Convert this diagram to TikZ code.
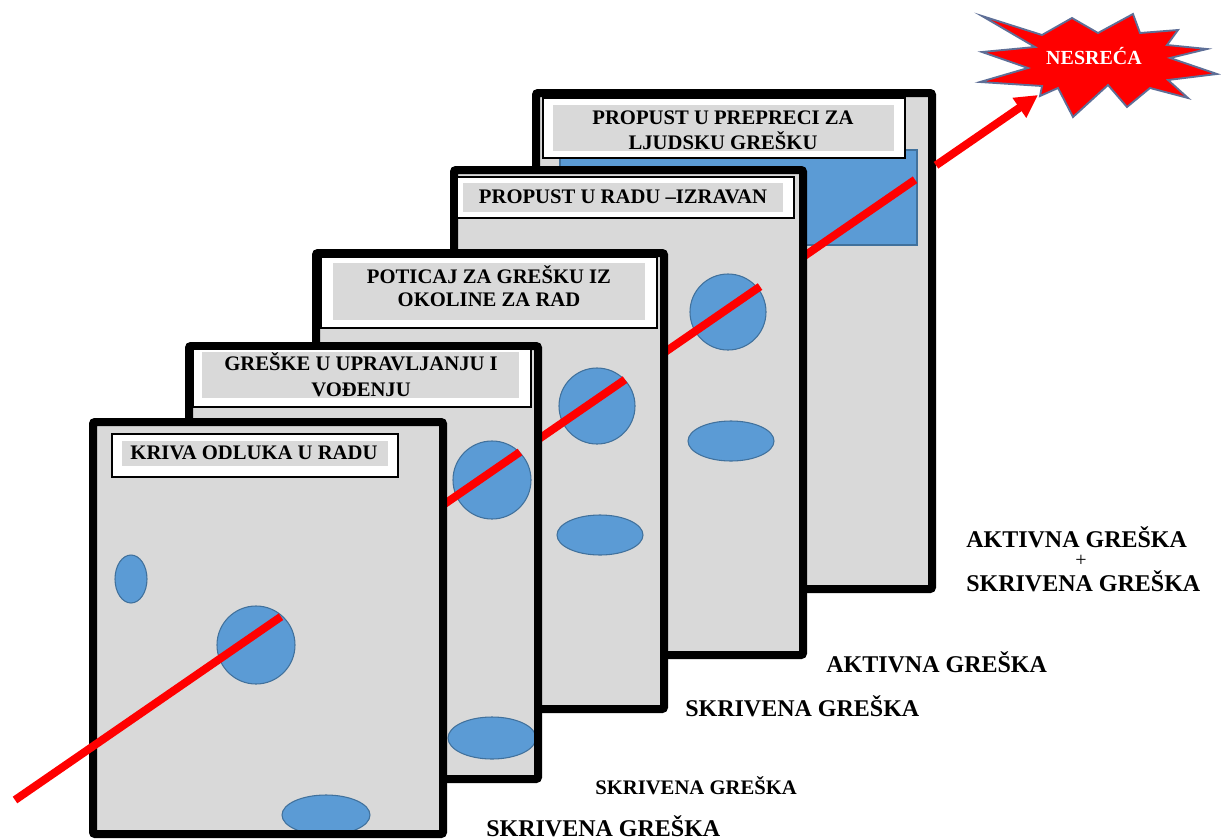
\documentclass[tikz,border=0pt]{standalone}
\usepackage{fontspec}
\setmainfont{Liberation Serif}
\usetikzlibrary{arrows.meta,calc}
\definecolor{panelgray}{HTML}{D9D9D9}
\definecolor{blobfill}{HTML}{5B9BD5}
\definecolor{blobline}{HTML}{41719C}
\definecolor{starline}{HTML}{5E6F97}
\begin{document}
\begin{tikzpicture}[x=0.75pt,y=-0.75pt,
  panelfill/.style={fill=panelgray},
  panelframe/.style={draw=black,line width=6pt,rounded corners=1.5pt},
  labelbox/.style={draw=black,line width=0.9pt,fill=white},
  labelfill/.style={fill=panelgray},
  blob/.style={fill=blobfill,draw=blobline,line width=0.8pt},
  ray/.style={draw=red,line width=6pt},
  ltxt/.style={font=\fontsize{15.5}{18}\selectfont\bfseries,anchor=base,inner sep=0pt},
  btxt/.style={font=\fontsize{18}{21}\selectfont\bfseries,anchor=base west,inner sep=0pt},
  stxt/.style={font=\fontsize{15.5}{18}\selectfont\bfseries,anchor=base west,inner sep=0pt},
  starshape/.style={fill=red,draw=starline,line width=1.4pt,line join=miter},
]
\useasboundingbox (0,0) rectangle (1221,839);
\coordinate (r0) at (15,800);
\coordinate (r1) at (1038,95);

% ---------- Panel 5 ----------
\fill[panelfill] (536,93) rectangle (932,589);
\draw[blob] (560,150) rectangle (917,245);
\draw[panelframe] (536,93) rectangle (932,589);
\draw[labelbox] (543,98) rectangle (905,158);
\fill[labelfill] (553,105) rectangle (894,151);
\node[ltxt] (t5a) at (723,124) {PROPUST U PREPRECI ZA};
\node[ltxt] (t5b) at (723,149) {LJUDSKU GREŠKU};
\draw[ray] ($(r0)!0.7576!(r1)$) -- ($(r0)!0.8798!(r1)$);

% ---------- Panel 4 ----------
\fill[panelfill] (454,170) rectangle (803,655);
\draw[blob] (728,312) circle [radius=38];
\draw[blob] (731,441) ellipse [x radius=43, y radius=20];
\draw[panelframe] (454,170) rectangle (803,655);
\draw[labelbox] (457,177) rectangle (794,218);
\fill[labelfill] (463,183) rectangle (783,212);
\node[ltxt] (t4) at (623,203) {PROPUST U RADU –IZRAVAN};
\draw[ray] ($(r0)!0.6207!(r1)$) -- ($(r0)!0.7283!(r1)$);

% ---------- Panel 3 ----------
\fill[panelfill] (316,253) rectangle (664,709);
\draw[blob] (597,406) circle [radius=38];
\draw[blob] (600,535) ellipse [x radius=43, y radius=20];
\draw[panelframe] (316,253) rectangle (664,709);
\draw[labelbox] (321,257) rectangle (657,328);
\fill[labelfill] (333,263) rectangle (645,320);
\node[ltxt] (t3a) at (489,283) {POTICAJ ZA GREŠKU IZ};
\node[ltxt] (t3b) at (489,306) {OKOLINE ZA RAD};
\draw[ray] ($(r0)!0.5034!(r1)$) -- ($(r0)!0.5963!(r1)$);

% ---------- Panel 2 ----------
\fill[panelfill] (189,346) rectangle (538,779);
\draw[blob] (492,480) circle [radius=39];
\draw[blob] (492,738) ellipse [x radius=44, y radius=21];
\draw[panelframe] (189,346) rectangle (538,779);
\draw[labelbox] (193,349) rectangle (531,407);
\fill[labelfill] (202,352) rectangle (519,398);
\node[ltxt] (t2a) at (361,370) {GREŠKE U UPRAVLJANJU I};
\node[ltxt] (t2b) at (361,396) {VOĐENJU};
\draw[ray] ($(r0)!0.4057!(r1)$) -- ($(r0)!0.4936!(r1)$);

% ---------- Panel 1 ----------
\fill[panelfill] (93,422) rectangle (443,834);
\draw[blob] (131,579) ellipse [x radius=16, y radius=24];
\draw[blob] (256,645) circle [radius=39];
\draw[blob] (326,815) ellipse [x radius=44, y radius=20];
\draw[panelframe] (93,422) rectangle (443,834);
\draw[labelbox] (112,434) rectangle (398,477);
\fill[labelfill] (122,441) rectangle (388,466);
\node[ltxt] (t1) at (254,459) {KRIVA ODLUKA U RADU};
\draw[ray] (r0) -- ($(r0)!0.26!(r1)$);

% ---------- Star (explosion) ----------
\draw[starshape] (982,16) -- (1042,35) -- (1072,18) -- (1098,33) -- (1133,14)
  -- (1140,33) -- (1178,30) -- (1167,45) -- (1207,49) -- (1170,58)
  -- (1217,74) -- (1168,80) -- (1188,98) -- (1150,88) -- (1127,107)
  -- (1108,85) -- (1073,117) -- (1058,88) -- (1040,96) -- (1042,86)
  -- (980,82) -- (1028,68) -- (982,52) -- (1035,47) -- cycle;
\node[font=\fontsize{15}{18}\selectfont\bfseries,text=white,anchor=base,inner sep=0pt] (acc) at (1094,64) {NESREĆA};

% ---------- Arrow to accident ----------
\draw[ray,-{Triangle[length=17pt,width=17pt]}] ($(r0)!0.9003!(r1)$) -- (r1);

% ---------- Right-hand labels ----------
\node[btxt] (a1) at (966,547) {AKTIVNA GREŠKA};
\node[font=\fontsize{15}{18}\selectfont,inner sep=0pt] (plus) at (1081,561) {+};
\node[btxt] (s1) at (966,591) {SKRIVENA GREŠKA};
\node[btxt] (a2) at (826,672) {AKTIVNA GREŠKA};
\node[btxt] (s2) at (685,716) {SKRIVENA GREŠKA};
\node[stxt] (s3) at (595,794) {SKRIVENA GREŠKA};
\node[btxt] (s4) at (486,836) {SKRIVENA GREŠKA};
\end{tikzpicture}
\end{document}
